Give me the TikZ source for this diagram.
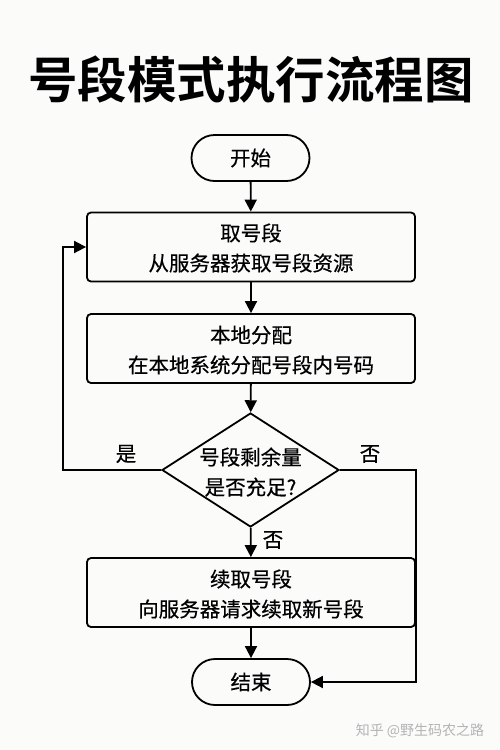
\documentclass[tikz,border=0pt]{standalone}
\usepackage{fontspec}
\setmainfont{Noto Sans CJK SC}[BoldFont={Noto Sans CJK SC Bold}]
\newfontfamily\medfont{Noto Sans CJK SC}[FakeBold=0.5]
\usetikzlibrary{shapes.geometric,arrows.meta}
\definecolor{bg}{HTML}{FBFBFA}
\definecolor{wm}{HTML}{B4B4B4}
\tikzset{
  flowline/.style={line width=1.8pt, draw=black},
  arr/.style={flowline, -{Triangle[length=12pt,width=12pt]}},
  term/.style={draw, line width=1.8pt, rounded corners=23pt, minimum width=118pt, minimum height=46pt, inner sep=0pt, font=\medfont\fontsize{20.5}{30}\selectfont},
  procbox/.style={draw, line width=1.8pt, rounded corners=4pt, minimum width=328pt, minimum height=69pt, inner sep=0pt},
  txt/.style={align=center, inner sep=0pt, font=\medfont\fontsize{20.5}{30}\selectfont},
  lbl/.style={inner sep=0pt, font=\medfont\fontsize{20.5}{24}\selectfont},
}
\begin{document}
\begin{tikzpicture}[x=1pt,y=-1pt]
\fill[bg] (0,0) rectangle (500,750);
\useasboundingbox (0,0) rectangle (500,750);
\node[font=\fontsize{49.5}{56}\selectfont\bfseries, inner sep=0pt] (title) at (251,80) {号段模式执行流程图};
\node[term] (start) at (250.5,158) {开始};
\node[procbox] (box1) at (251,247) {};
\node[txt] (t1) at (251,248) {取号段\\从服务器获取号段资源};
\node[procbox] (box2) at (251,348.5) {};
\node[txt] (t2) at (251,350) {本地分配\\在本地系统分配号段内号码};
\node[draw, diamond, line width=1.8pt, minimum width=177pt, minimum height=114pt, inner sep=0pt] (dec) at (250.5,470) {};
\node[txt] (t3) at (250.5,472) {号段剩余量\\是否充足?};
\node[procbox] (box3) at (251,592.5) {};
\node[txt] (t4) at (251,594) {续取号段\\向服务器请求续取新号段};
\node[term] (end) at (251,682) {结束};
\coordinate (lc) at (63,470);
\coordinate (rc) at (416,470);
\draw[arr] (start) -- (box1);
\draw[arr] (box1) -- (box2);
\draw[arr] (box2) -- (dec);
\draw[arr] (dec) -- (box3);
\draw[arr] (box3) -- (end);
\draw[arr] (dec.west) -- (lc) |- (box1.west);
\draw[arr] (dec.east) -- (rc) |- (end.east);
\node[lbl] (yes) at (126,454) {是};
\node[lbl] (no1) at (370,454) {否};
\node[lbl] (no2) at (273,540) {否};
\node[inner sep=0pt, text=wm, font=\fontsize{14}{16}\selectfont] (wmark) at (420,731) {知乎 @野生码农之路};
\end{tikzpicture}
\end{document}
